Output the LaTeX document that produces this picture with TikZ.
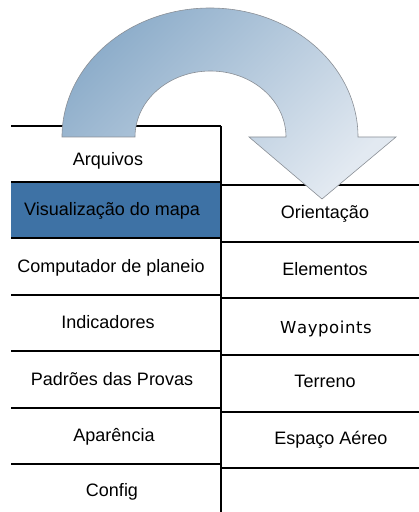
\documentclass[tikz,border=0pt]{standalone}
\usepackage{fontspec}
\setmainfont{Liberation Sans}
\newfontfamily\djv{DejaVu Sans}
\definecolor{selblue}{HTML}{3E72A5}
\definecolor{arrA}{HTML}{8DADCA}
\definecolor{arrB}{HTML}{E2E9F1}
\definecolor{arrEdge}{HTML}{8A8F96}
\begin{document}
\begin{tikzpicture}[x=1pt,y=1pt,
  tab/.style={line width=1.1pt,black},
  lbl/.style={font=\fontsize{18}{21}\selectfont,text=black,inner sep=0pt,anchor=base}]
\useasboundingbox (0,0) rectangle (419,512);
% selected row
\fill[selblue] (11,274) rectangle (221,330);
% left column lines
\foreach \y in {386,330,274,217,161,104,48}
  \draw[tab] (11,\y) -- (221,\y);
\draw[tab] (221,386) -- (221,0);
% right column lines
\foreach \y in {327,270,214,157,100,44}
  \draw[tab] (221,\y) -- (419,\y);
% labels left
\node[lbl] (arq) at (108,346) {Arquivos};
\node[lbl] (vis) at (112,296) {Visualização do mapa};
\node[lbl] (comp) at (111,239) {Computador de planeio};
\node[lbl] (ind) at (108,183) {Indicadores};
\node[lbl] (pad) at (112,126) {Padrões das Provas};
\node[lbl] (apa) at (114,70) {Aparência};
\node[lbl] (cfg) at (112,16) {Config};
% labels right
\node[lbl] (ori) at (325,293) {Orientação};
\node[lbl] (ele) at (325,236) {Elementos};
\node[lbl,font=\djv\fontsize{16.5}{20}\selectfont] (way) at (326,178) {W\kern0.6pt a\kern0.6pt y\kern0.6pt p\kern0.6pt o\kern0.6pt i\kern0.6pt n\kern0.6pt t\kern0.6pt s};
\node[lbl] (ter) at (325,124) {Terreno};
\node[lbl] (esp) at (331,67) {Espaço Aéreo};
% curved arrow
\draw[draw=arrEdge,line width=0.6pt,top color=arrA,bottom color=arrB,shading angle=45]
  (62,375) arc[start angle=180,end angle=0,x radius=148pt,y radius=129pt]
  -- (396,375) -- (322,313) -- (249,375) -- (286,375)
  arc[start angle=0,end angle=180,x radius=75.5pt,y radius=66pt]
  -- cycle;
\end{tikzpicture}
\end{document}
